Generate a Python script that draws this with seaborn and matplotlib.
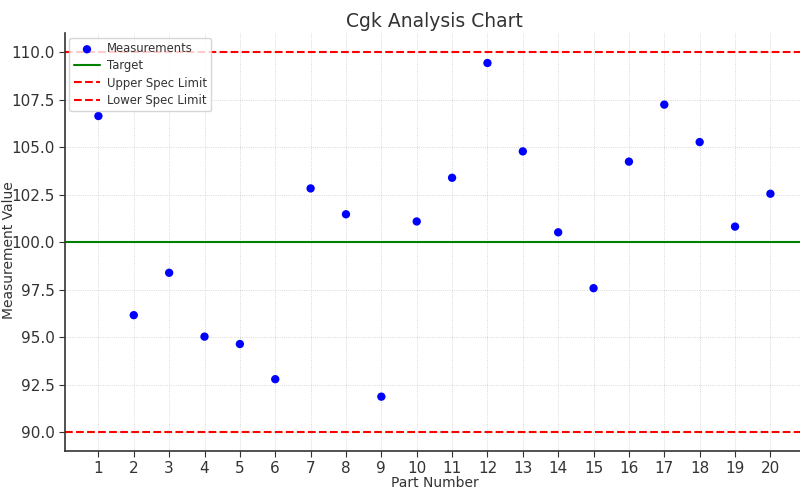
import matplotlib
matplotlib.use("Agg")
import matplotlib.pyplot as plt
import pandas as pd
import seaborn as sns

part_numbers = list(range(1, 21))
measurements = [106.63, 96.15, 98.38, 95.02, 94.63, 92.78, 102.82, 101.46, 91.86, 101.08,
                103.38, 109.42, 104.77, 100.51, 97.57, 104.23, 107.23, 105.26, 100.81, 102.54]
target = 100.0
usl = 110.0
lsl = 90.0
y_ticks = [90, 92.5, 95, 97.5, 100, 102.5, 105, 107.5, 110]

df = pd.DataFrame({"Part Number": part_numbers, "Measurement Value": measurements})

sns.set_style("ticks")
plt.rcParams["font.family"] = ["DejaVu Sans"]

fig = plt.figure(figsize=(8, 5), dpi=100)
ax = fig.add_axes([0.081, 0.098, 0.924, 0.836])

sns.scatterplot(data=df, x="Part Number", y="Measurement Value", ax=ax,
                color="blue", s=36, edgecolor="none", label="Measurements", zorder=3)
ax.axhline(target, color="green", linewidth=1.5, label="Target")
ax.axhline(usl, color="red", linestyle="--", linewidth=1.5, label="Upper Spec Limit")
ax.axhline(lsl, color="red", linestyle="--", linewidth=1.5, label="Lower Spec Limit")

ax.set_xticks(part_numbers)
ax.set_yticks(y_ticks)
ax.set_yticklabels([f"{v:.1f}" for v in y_ticks])
ax.set_xlim(0.05, 20.95)
ax.set_ylim(89, 111)

ax.grid(True, linestyle=":", linewidth=0.6, color="#cccccc")
ax.tick_params(direction="out", labelsize=11, colors="#333333", length=4, pad=3)
for s in ["top", "right"]:
    ax.spines[s].set_visible(False)
for s in ["left", "bottom"]:
    ax.spines[s].set_color("#333333")
    ax.spines[s].set_linewidth(1.2)

ax.set_title("Cgk Analysis Chart", fontsize=13.5, color="#333333", pad=4)
ax.set_xlabel("Part Number", fontsize=10, color="#333333", labelpad=0)
ax.set_ylabel("Measurement Value", fontsize=10, color="#333333")
# place the y label near the left edge of the figure, clear of the tick labels
ax.yaxis.set_label_coords(16 / 800, 0.5, transform=fig.transFigure)

leg = ax.legend(loc="upper left", fontsize=8.4, frameon=True, borderaxespad=0.4,
                handlelength=2.2, handletextpad=0.6, labelspacing=0.35)
for t in leg.get_texts():
    t.set_color("#333333")

fig.savefig("out.png", dpi=100)
